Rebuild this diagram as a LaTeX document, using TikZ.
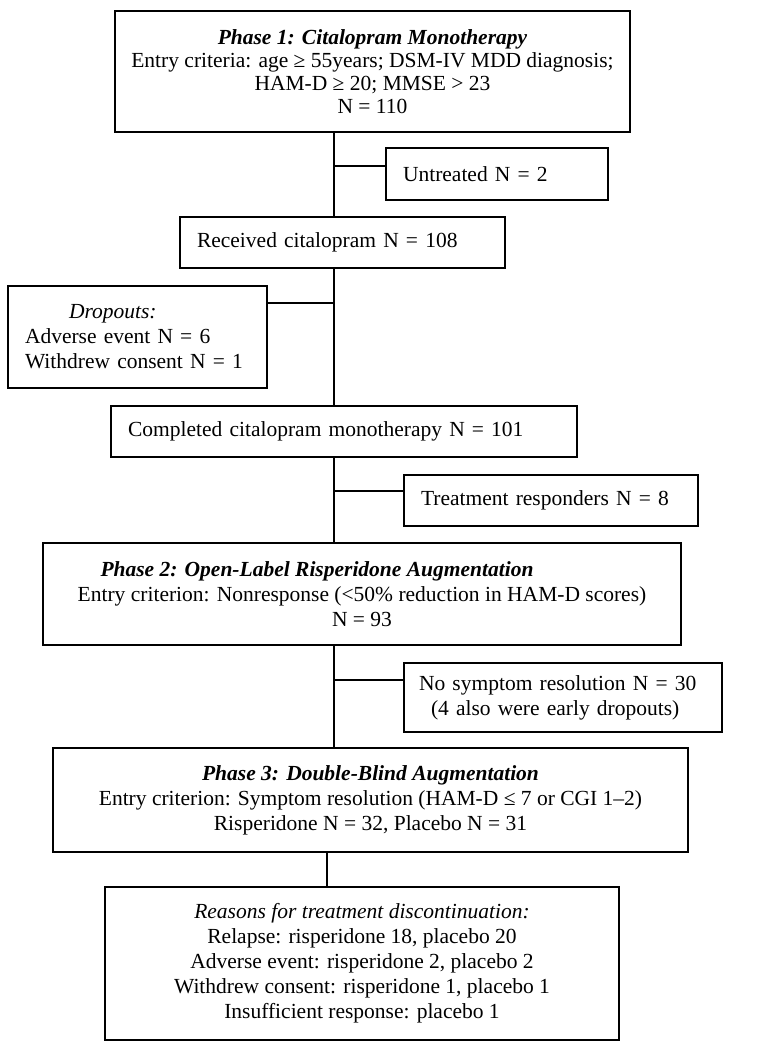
\documentclass[tikz,border=0pt]{standalone}
\usepackage{fontspec}
\setmainfont{Liberation Serif}
\begin{document}
\begin{tikzpicture}[x=1pt,y=-1pt,
    box/.style={draw, line width=1.4pt, inner sep=0pt, align=center,
      font=\fontsize{21.5}{25}\selectfont},
    lbox/.style={box, align=left, inner xsep=17pt},
    link/.style={line width=1.2pt}]
  \useasboundingbox (0,0) rectangle (758,1050);

  % main column
  \node[box, minimum width=515pt, minimum height=121pt,
    font=\fontsize{21.5}{23}\selectfont] (phase1) at (372.5,71.5)
    {\textbf{\textit{Phase 1: Citalopram Monotherapy}}\\
     Entry criteria: age ≥ 55years; DSM-IV MDD diagnosis;\\
     HAM-D ≥ 20; MMSE > 23\\
     N = 110};
  \node[lbox, text width=291pt, minimum height=51pt] (received) at (342.5,242.5)
    {Received citalopram N = 108};
  \node[lbox, text width=432pt, minimum height=51pt] (completed) at (344,431.5)
    {Completed citalopram monotherapy N = 101};
  \node[box, minimum width=638pt, minimum height=102pt] (phase2) at (362,594)
    {\textbf{\textit{Phase 2: Open-Label Risperidone Augmentation}}\hspace*{90pt}\\
     Entry criterion: Nonresponse (<50\% reduction in HAM-D scores)\\
     N = 93};
  \node[box, minimum width=635pt, minimum height=104pt] (phase3) at (370.5,800)
    {\textbf{\textit{Phase 3: Double-Blind Augmentation}}\\
     Entry criterion: Symptom resolution (HAM-D ≤ 7 or CGI 1–2)\\
     Risperidone N = 32, Placebo N = 31};
  \node[box, minimum width=514pt, minimum height=153pt] (reasons) at (362,963.5)
    {\textit{Reasons for treatment discontinuation:}\\
     Relapse: risperidone 18, placebo 20\\
     Adverse event: risperidone 2, placebo 2\\
     Withdrew consent: risperidone 1, placebo 1\\
     Insufficient response: placebo 1};

  % side boxes
  \node[lbox, text width=188pt, minimum height=52pt] (untreated) at (497,174)
    {Untreated N = 2};
  \node[lbox, text width=225pt, minimum height=102pt] (dropouts) at (137.5,337)
    {\hspace*{44pt}\textit{Dropouts:}\\
     Adverse event N = 6\\
     Withdrew consent N = 1};
  \node[lbox, text width=260pt, minimum height=51pt] (responders) at (551,500.5)
    {Treatment responders N = 8};
  \node[lbox, inner xsep=15pt, text width=288pt, minimum height=69pt] (nosymptom) at (563,697.5)
    {No symptom resolution N = 30\\
     \hspace*{12pt}(4 also were early dropouts)};

  % connectors
  \coordinate (spine) at (334,0);
  \coordinate (tail) at (327,0);
  \draw[link] (phase1.south -| spine) -- (received.north -| spine);
  \draw[link] (received.south -| spine) -- (completed.north -| spine);
  \draw[link] (completed.south -| spine) -- (phase2.north -| spine);
  \draw[link] (phase2.south -| spine) -- (phase3.north -| spine);
  \draw[link] (phase3.south -| tail) -- (reasons.north -| tail);

  \coordinate (b1) at (334,166);
  \coordinate (b2) at (334,303);
  \coordinate (b3) at (334,491);
  \coordinate (b4) at (334,680);
  \draw[link] (b1) -- (b1 -| untreated.west);
  \draw[link] (b2) -- (b2 -| dropouts.east);
  \draw[link] (b3) -- (b3 -| responders.west);
  \draw[link] (b4) -- (b4 -| nosymptom.west);
\end{tikzpicture}
\end{document}
